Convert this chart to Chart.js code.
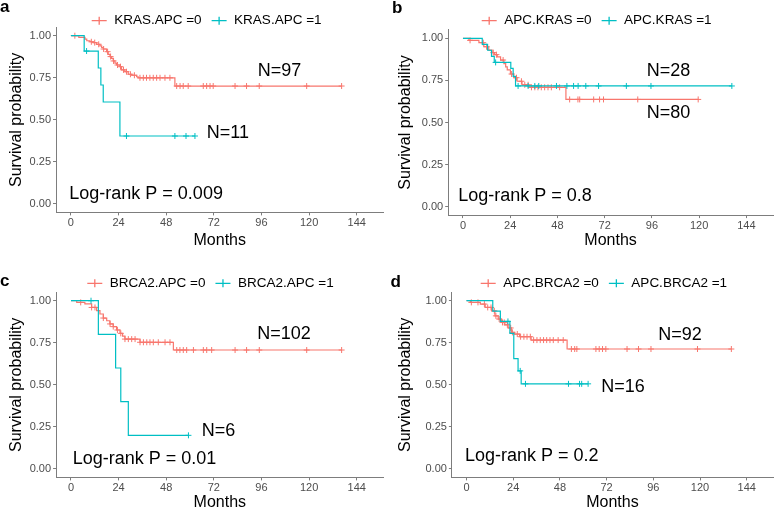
<!DOCTYPE html>
<html>
<head>
<meta charset="utf-8">
<script src="https://cdn.jsdelivr.net/npm/chart.js@4.4.1/dist/chart.umd.min.js"></script>
<style>
  html, body { margin: 0; padding: 0; background: #fff; overflow: hidden; }
  #wrap { position: relative; width: 778px; height: 509px; overflow: hidden; }
  canvas { position: absolute; }
</style>
</head>
<body>
<div id="wrap">
  <canvas id="pa" width="389" height="254" style="left:0;top:0"></canvas>
  <canvas id="pb" width="389" height="254" style="left:389px;top:0"></canvas>
  <canvas id="pc" width="389" height="262" style="left:0;top:254px"></canvas>
  <canvas id="pd" width="389" height="262" style="left:389px;top:254px"></canvas>
</div>
<script>
// shared axes
const xTicks = [0, 24, 48, 72, 96, 120, 144];
const yTicks = [0, 0.25, 0.5, 0.75, 1];

// panel a: KRAS.APC
const aGroups = ["KRAS.APC =0", "KRAS.APC =1"];
const aTime0 = [0, 4, 7.1, 8, 9.6, 11.3, 13, 14.6, 15.5, 16.3, 18, 18.8, 19.7, 20.5, 21.3, 22.2, 23, 24.7, 25.5, 27.2, 28.9, 30.6, 33.1, 33.9, 52.4, 136.4];
const aSurv0 = [1, 0.99, 0.98, 0.97, 0.964, 0.959, 0.949, 0.94, 0.93, 0.921, 0.905, 0.889, 0.876, 0.865, 0.85, 0.837, 0.826, 0.816, 0.797, 0.786, 0.771, 0.765, 0.756, 0.75, 0.701, 0.701];
const aCens0 = [2, 10.3, 12, 14, 16.5, 18.5, 20, 21.5, 23.5, 25, 26.5, 28, 30, 32, 34.8, 36.5, 38.1, 39.8, 41.5, 43.2, 44.9, 47.4, 49.9, 53.3, 55, 56.6, 59.1, 66.7, 68.4, 70.1, 71.7, 82.7, 88.5, 94.9, 118.8, 136.4];
const aTime1 = [0, 6.7, 13.8, 15.1, 16.3, 24.7, 62.5];
const aSurv1 = [1, 0.909, 0.808, 0.707, 0.606, 0.404, 0.404];
const aCens1 = [7.9, 28, 52.4, 58, 62.5];
const aCounts = ["N=97", "N=11"];
const aP = "Log-rank P = 0.009";

// panel b: APC.KRAS
const bGroups = ["APC.KRAS =0", "APC.KRAS =1"];
const bTime0 = [0, 3, 8.1, 10.6, 13.1, 14.8, 16.1, 17.4, 19.1, 20.8, 21.7, 22.5, 24.1, 25.8, 27.5, 30, 33.4, 52.3, 119.5];
const bSurv0 = [1, 0.988, 0.974, 0.95, 0.93, 0.915, 0.903, 0.89, 0.871, 0.85, 0.83, 0.812, 0.788, 0.766, 0.745, 0.724, 0.709, 0.637, 0.637];
const bCens0 = [3.6, 10.3, 12, 15.4, 17, 20.4, 24.7, 27.2, 29.7, 31.4, 33.1, 34.8, 36.5, 38.1, 39.8, 41.5, 43.2, 44.9, 49.1, 54.2, 58.4, 59.3, 66.4, 69.4, 71.4, 88.8, 119.5];
const bTime1 = [0, 9.8, 12.5, 14.5, 15.9, 24.3, 25.5, 26.7, 136.6];
const bSurv1 = [1, 0.964, 0.929, 0.893, 0.857, 0.821, 0.774, 0.717, 0.717];
const bCens1 = [16.6, 28, 33.1, 36.5, 38.5, 47.5, 52.8, 56.2, 58.5, 62.4, 68.9, 83, 95.5, 136.6];
const bCounts = ["N=28", "N=80"];
const bP = "Log-rank P = 0.8";

// panel c: BRCA2.APC
const cGroups = ["BRCA2.APC =0", "BRCA2.APC =1"];
const cTime0 = [0, 2.9, 7, 10.4, 12.9, 14.6, 16.3, 18, 19.6, 21.3, 23, 24.7, 26, 27.2, 34.8, 51.6, 136.4];
const cSurv0 = [1, 0.99, 0.981, 0.96, 0.941, 0.921, 0.897, 0.881, 0.862, 0.846, 0.826, 0.806, 0.789, 0.772, 0.753, 0.707, 0.707];
const cCens0 = [4.9, 10.4, 12.1, 16.3, 19.7, 21.3, 23.4, 25.1, 27.2, 28.9, 30.6, 32.3, 34.8, 36.5, 38.2, 39.8, 41.5, 44, 47.4, 49.9, 53.3, 54.9, 56.6, 58.3, 61.7, 66.7, 68.4, 70.9, 82.7, 88.5, 94.9, 118.8, 136.4];
const cTime1 = [0, 13.8, 22.5, 25.1, 28.9, 59.2];
const cSurv1 = [1, 0.8, 0.6, 0.4, 0.2, 0.2];
const cCens1 = [10.1, 59.2];
const cCounts = ["N=102", "N=6"];
const cP = "Log-rank P = 0.01";

// panel d: APC.BRCA2
const dGroups = ["APC.BRCA2 =0", "APC.BRCA2 =1"];
const dTime0 = [0, 2, 7.1, 9.6, 12.9, 14.6, 16.3, 18, 19.7, 21.4, 23.1, 24.7, 27.3, 33.2, 51.7, 136.1];
const dSurv0 = [1, 0.99, 0.98, 0.96, 0.94, 0.91, 0.891, 0.871, 0.857, 0.838, 0.812, 0.802, 0.786, 0.766, 0.713, 0.713];
const dCens0 = [2.5, 5.9, 9.2, 10.9, 12.6, 14.3, 15.1, 16.8, 18.5, 19.4, 21, 22.7, 23.6, 26.1, 27.8, 29.5, 31.1, 32.8, 34.5, 36.2, 37.9, 39.6, 41.2, 42.9, 44.6, 47.1, 49.7, 53.9, 55.6, 56.7, 66.5, 68.2, 69.9, 71.6, 82.5, 88.4, 94.8, 118.7, 136.1];
const dTime1 = [0, 13.5, 17.4, 22.3, 24.3, 26.5, 28.1, 62.5];
const dSurv1 = [1, 0.938, 0.877, 0.806, 0.656, 0.583, 0.506, 0.506];
const dCens1 = [21.3, 27.6, 30.3, 52.4, 58.1, 59.2, 62.5];
const dCounts = ["N=92", "N=16"];
const dP = "Log-rank P = 0.2";

const RED = "#F8766D";
const CYAN = "#00BFC4";
const AXIS = "#7d7d7d";
const TICK_TEXT = "#4d4d4d";
const FONT = '"Liberation Sans", Arial, Helvetica, sans-serif';

// value of the step curve at a censoring time
function survAt(times, surv, t) {
  let s = surv[0];
  for (let i = 0; i < times.length; i++) {
    if (times[i] <= t) s = surv[i];
  }
  return s;
}

// letters, legend and annotations
const panelText = {
  id: "panelText",
  afterDraw(chart, args, opts) {
    const ctx = chart.ctx;
    ctx.save();
    ctx.fillStyle = "#000";
    ctx.textAlign = "left";

    ctx.font = "bold 17px " + FONT;
    ctx.textBaseline = "alphabetic";
    ctx.fillText(opts.letter, opts.letterX, opts.letterY);

    // legend: line with a cross, then label
    ctx.font = "13.5px " + FONT;
    ctx.textBaseline = "middle";
    let x = opts.legendX;
    const y = opts.legendY;
    opts.groups.forEach((g, i) => {
      const col = opts.colors[i];
      ctx.strokeStyle = col;
      ctx.lineWidth = 1.3;
      ctx.beginPath();
      ctx.moveTo(x, y);
      ctx.lineTo(x + 15, y);
      ctx.moveTo(x + 7.5, y - 4);
      ctx.lineTo(x + 7.5, y + 4);
      ctx.stroke();
      ctx.fillStyle = "#000";
      ctx.fillText(g, x + 22.5, y);
      x += 22.5 + ctx.measureText(g).width + 10;
    });

    ctx.font = "18px " + FONT;
    opts.notes.forEach(n => ctx.fillText(n.text, n.x, n.y));
    ctx.restore();
  },
};

function makePanel(p) {
  const canvas = document.getElementById(p.id);
  const W = canvas.width, H = canvas.height;
  const series = [
    { time: p.time1, surv: p.surv1, cens: p.cens1, color: CYAN, order: 0 },
    { time: p.time0, surv: p.surv0, cens: p.cens0, color: RED, order: 1 },
  ];
  const datasets = [];
  series.forEach(s => {
    datasets.push({
      type: "line",
      data: s.time.map((t, i) => ({ x: t, y: s.surv[i] })),
      stepped: "before",
      borderColor: s.color,
      borderWidth: 1.2,
      pointRadius: 0,
      fill: false,
      order: s.order,
    });
    datasets.push({
      type: "scatter",
      data: s.cens.map(t => ({ x: t, y: survAt(s.time, s.surv, t) })),
      pointStyle: "cross",
      pointRadius: 3,
      borderColor: s.color,
      borderWidth: 1,
      order: s.order,
    });
  });

  const area = p.area;
  new Chart(canvas, {
    type: "scatter",
    data: { datasets },
    options: {
      responsive: false,
      animation: false,
      events: [],
      layout: { padding: { top: area.top, right: W - area.right, bottom: 0, left: 0 } },
      plugins: {
        legend: { display: false },
        tooltip: { enabled: false },
        panelText: {
          letter: p.letter, letterX: p.letterPos[0], letterY: p.letterPos[1],
          groups: p.groups, colors: [RED, CYAN],
          legendX: p.legendPos[0], legendY: p.legendPos[1],
          notes: p.notes,
        },
      },
      scales: {
        x: {
          type: "linear",
          min: -7.5,
          max: 157.5,
          afterFit: s => { s.height = H - area.bottom; },
          afterBuildTicks: s => { s.ticks = xTicks.map(v => ({ value: v })); },
          ticks: { color: TICK_TEXT, font: { family: FONT, size: 11 }, padding: 1, maxRotation: 0, callback: v => String(v) },
          grid: { display: true, drawOnChartArea: false, drawTicks: true, tickLength: 3, color: AXIS },
          border: { display: true, color: AXIS, width: 1 },
          title: { display: true, text: "Months", color: "#000", font: { family: FONT, size: 16 }, padding: { top: 0, bottom: 3.5 } },
        },
        y: {
          type: "linear",
          min: -0.05,
          max: 1.05,
          afterFit: s => { s.width = area.left; },
          afterBuildTicks: s => { s.ticks = yTicks.map(v => ({ value: v })); },
          ticks: { color: TICK_TEXT, font: { family: FONT, size: 11 }, padding: 2, callback: v => v.toFixed(2) },
          grid: { display: true, drawOnChartArea: false, drawTicks: true, tickLength: 3, color: AXIS },
          border: { display: true, color: AXIS, width: 1 },
          title: { display: true, text: "Survival probability", color: "#000", font: { family: FONT, size: 16 }, padding: { top: 7, bottom: 0 } },
        },
      },
    },
    plugins: [panelText],
  });
}

makePanel({
  id: "pa", letter: "a", letterPos: [0, 12], legendPos: [91.7, 20.7], groups: aGroups,
  area: { left: 56, right: 383.5, top: 27.3, bottom: 212.4 },
  time0: aTime0, surv0: aSurv0, cens0: aCens0, time1: aTime1, surv1: aSurv1, cens1: aCens1,
  notes: [
    { text: aCounts[0], x: 257.7, y: 70.7 },
    { text: aCounts[1], x: 206.7, y: 133.3 },
    { text: aP, x: 69.3, y: 194 },
  ],
});
makePanel({
  id: "pb", letter: "b", letterPos: [3, 13], legendPos: [92.7, 20.7], groups: bGroups,
  area: { left: 59.2, right: 384.9, top: 29.9, bottom: 215.1 },
  time0: bTime0, surv0: bSurv0, cens0: bCens0, time1: bTime1, surv1: bSurv1, cens1: bCens1,
  notes: [
    { text: bCounts[0], x: 257.7, y: 71.2 },
    { text: bCounts[1], x: 257.7, y: 113.3 },
    { text: bP, x: 69.3, y: 196 },
  ],
});
makePanel({
  id: "pc", letter: "c", letterPos: [0, 31.7], legendPos: [87.3, 29.3], groups: cGroups,
  area: { left: 56.1, right: 383.5, top: 38.3, bottom: 223.4 },
  time0: cTime0, surv0: cSurv0, cens0: cCens0, time1: cTime1, surv1: cSurv1, cens1: cCens1,
  notes: [
    { text: cCounts[0], x: 257.3, y: 80 },
    { text: cCounts[1], x: 201.7, y: 176.7 },
    { text: cP, x: 72.7, y: 205 },
  ],
});
makePanel({
  id: "pd", letter: "d", letterPos: [1.5, 33], legendPos: [91.7, 29.3], groups: dGroups,
  area: { left: 62.9, right: 389, top: 38.3, bottom: 223.4 },
  time0: dTime0, surv0: dSurv0, cens0: dCens0, time1: dTime1, surv1: dSurv1, cens1: dCens1,
  notes: [
    { text: dCounts[0], x: 269.3, y: 80.8 },
    { text: dCounts[1], x: 212.3, y: 133.3 },
    { text: dP, x: 76, y: 201.7 },
  ],
});
</script>
</body>
</html>
